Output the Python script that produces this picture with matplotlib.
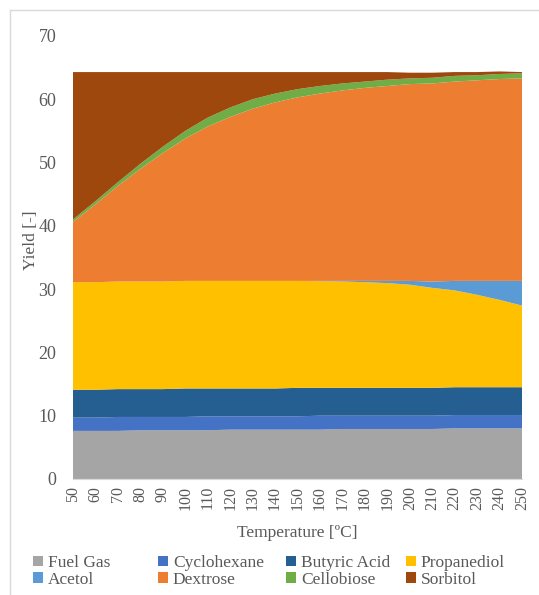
import matplotlib
matplotlib.use("Agg")
import matplotlib.pyplot as plt
from matplotlib.patches import Patch
from matplotlib.lines import Line2D

plt.rcParams['font.family'] = ['Liberation Serif', 'DejaVu Serif']

temps = list(range(50, 251, 10))

fuel_gas = [7.6, 7.6, 7.6, 7.7, 7.7, 7.7, 7.7, 7.8, 7.8, 7.8, 7.8,
            7.8, 7.9, 7.9, 7.9, 7.9, 7.9, 8.0, 8.0, 8.0, 8.0]
cyclohexane = [2.1, 2.1, 2.2, 2.1, 2.1, 2.1, 2.2, 2.1, 2.1, 2.1, 2.1,
               2.2, 2.1, 2.1, 2.1, 2.1, 2.1, 2.1, 2.1, 2.1, 2.1]
butyric_acid = [4.4, 4.4, 4.4, 4.4, 4.4, 4.5, 4.4, 4.4, 4.4, 4.4, 4.5,
                4.4, 4.4, 4.4, 4.4, 4.4, 4.4, 4.4, 4.4, 4.4, 4.4]
propanediol = [17.0, 17.0, 17.0, 17.0, 17.0, 17.0, 17.0, 17.0, 17.0, 17.0, 16.9,
               16.85, 16.8, 16.7, 16.55, 16.3, 15.8, 15.3, 14.6, 13.8, 12.9]
acetol = [0.0, 0.0, 0.0, 0.0, 0.0, 0.0, 0.0, 0.0, 0.0, 0.0, 0.0,
          0.05, 0.1, 0.2, 0.35, 0.6, 1.0, 1.5, 2.2, 3.0, 3.9]
dextrose = [9.5, 12.3, 15.1, 17.8, 20.3, 22.5, 24.4, 25.9, 27.2, 28.2, 29.0,
            29.6, 30.1, 30.5, 30.8, 31.1, 31.3, 31.5, 31.7, 31.9, 32.0]
cellobiose = [0.4, 0.5, 0.6, 0.8, 1.0, 1.2, 1.4, 1.5, 1.5, 1.4, 1.3,
              1.2, 1.1, 1.0, 1.0, 0.9, 0.9, 0.9, 0.8, 0.8, 0.8]
sorbitol = [23.3, 20.4, 17.4, 14.5, 11.8, 9.3, 7.2, 5.6, 4.3, 3.4, 2.7,
            2.2, 1.8, 1.5, 1.2, 0.9, 0.8, 0.6, 0.5, 0.4, 0.2]

names = ['Fuel Gas', 'Cyclohexane', 'Butyric Acid', 'Propanediol',
         'Acetol', 'Dextrose', 'Cellobiose', 'Sorbitol']
colors = ['#A5A5A5', '#4472C4', '#255E91', '#FFC000',
          '#5B9BD5', '#ED7D31', '#70AD47', '#9E480E']
series = [fuel_gas, cyclohexane, butyric_acid, propanediol,
          acetol, dextrose, cellobiose, sorbitol]

txt = '#595959'

fig = plt.figure(figsize=(5.39, 5.95), dpi=100)
ax = fig.add_axes([0.1354, 0.195, 0.8331, 0.7445])

ax.stackplot(temps, *series, colors=colors, linewidth=0)

ax.set_xlim(50, 250)
ax.set_ylim(0, 70)
ax.set_xticks(temps)
ax.set_xticklabels([str(t) for t in temps], rotation=90, fontsize=11.5, color=txt)
ax.set_yticks(range(0, 71, 10))
ax.tick_params(axis='y', labelsize=13, labelcolor=txt, length=0, pad=12)
ax.tick_params(axis='x', length=0, pad=5)
for s in ['top', 'right', 'left']:
    ax.spines[s].set_visible(False)
ax.spines['bottom'].set_color('#D9D9D9')

ax.set_xlabel('Temperature [ºC]', fontsize=12.5, color=txt, labelpad=11)
ax.set_ylabel('Yield [-]', fontsize=12.5, color=txt)
ax.yaxis.set_label_coords(-0.075, 0.54)

# legend laid out as four fixed columns, two rows each
col_x = [33, 158, 286, 406]
for i, x in enumerate(col_x):
    idx = [i, i + 4]
    hs = [Patch(facecolor=colors[j], edgecolor='none') for j in idx]
    fig.legend(hs, [names[j] for j in idx], loc='upper left',
               bbox_to_anchor=(x / 539, 1 - 555 / 595), frameon=False,
               fontsize=12.5, labelcolor=txt, borderpad=0, borderaxespad=0,
               handlelength=0.55, handleheight=0.55, handletextpad=0.3,
               labelspacing=0.05)

# chart frame edges
fig.add_artist(Line2D([10 / 539, 10 / 539], [0, 1 - 10 / 595],
                      transform=fig.transFigure, color='#D9D9D9', lw=1))
fig.add_artist(Line2D([10 / 539, 1], [1 - 10 / 595, 1 - 10 / 595],
                      transform=fig.transFigure, color='#D9D9D9', lw=1))

fig.savefig('out.png', dpi=100)
